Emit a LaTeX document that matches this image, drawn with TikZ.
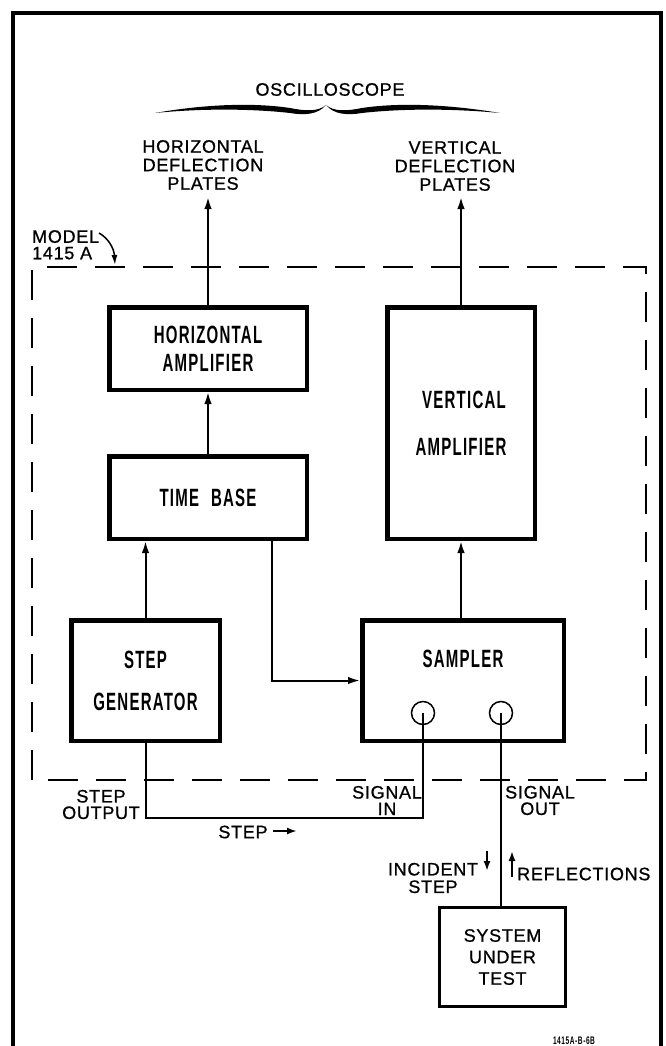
\documentclass[tikz,border=0pt]{standalone}
\usepackage{fontspec}
\setmainfont{Liberation Sans}
\newfontfamily\labfont[LetterSpace=4,FakeBold=0.8]{Liberation Sans}
\newfontfamily\boxfont[FakeStretch=0.6,LetterSpace=5]{Liberation Sans Bold}
\usetikzlibrary{arrows.meta}
\begin{document}
\begin{tikzpicture}[x=1pt,y=-1pt,
  lab/.style={font=\labfont\fontsize{18}{18.5}\selectfont, align=center, inner sep=0pt},
  lab16/.style={font=\labfont\fontsize{18}{16.5}\selectfont, align=center, inner sep=0pt},
  blk/.style={draw, line width=4.5pt, inner sep=0pt, font=\boxfont\fontsize{25}{28}\selectfont, align=center},
  conn/.style={line width=2pt},
  arr/.style={conn, -{Latex[length=12pt,width=7.5pt]}},
  smallarr/.style={line width=1.8pt, -{Latex[length=10pt,width=7pt]}},
]
\useasboundingbox (0,0) rectangle (666,1046);
% outer frame
\draw[line width=4pt] (13,1050) -- (13,13) -- (661,13) -- (661,1050);

% oscilloscope label and brace
\node[lab] (osc) at (330,89.5) {OSCILLOSCOPE};
\fill (155,113) .. controls (200,105) and (250,102) .. (290,108)
      .. controls (305,111) and (318,112) .. (326,105)
      .. controls (318,114.5) and (305,115.5) .. (290,113)
      .. controls (250,108.5) and (200,108.5) .. (155,113) -- cycle;
\fill (326,105) .. controls (334,112) and (347,111) .. (362,108)
      .. controls (402,102) and (452,105) .. (500,113)
      .. controls (452,108.5) and (402,108.5) .. (362,113)
      .. controls (347,115.5) and (334,114.5) .. (326,105) -- cycle;

\node[lab] (hdp) at (203,165) {HORIZONTAL\\DEFLECTION\\PLATES};
\node[lab] (vdp) at (455,166) {VERTICAL\\DEFLECTION\\PLATES};
\coordinate (hdptip) at (208,197);
\coordinate (vdptip) at (461,197);

% model label
\node[lab16, align=left, anchor=north west] (model) at (32,230) {MODEL\\1415 A};
\coordinate (mstart) at (99,233);
\coordinate (mtip) at (115,265);
\draw[line width=1.5pt, -{Latex[length=10pt,width=6pt]}] (mstart) .. controls (108,238) and (114,248) .. (mtip);

% dashed enclosure
\draw[conn, dash pattern=on 30pt off 18pt] (32,780) -- (32,267) -- (646,267) -- (646,780) -- cycle;

% blocks
\node[blk, minimum width=197.5pt, minimum height=82.5pt] (ha) at (208,348.5) {HORIZONTAL\\AMPLIFIER};
\node[blk, minimum width=197.5pt, minimum height=82.5pt] (tb) at (208,497.5) {TIME\hspace{12pt}BASE};
\node[blk, minimum width=147.5pt, minimum height=231.5pt] (va) at (461,423) {\hspace*{6pt}VERTICAL\\[19pt]AMPLIFIER};
\node[blk, minimum width=148.5pt, minimum height=120.5pt] (sg) at (145.5,680.5) {STEP\\[14pt]GENERATOR};
\node[blk, minimum width=201.5pt, minimum height=120.5pt] (sa) at (463,680.5) {};
\node[font=\boxfont\fontsize{25}{28}\selectfont, inner sep=0pt] (salab) at (463,659) {SAMPLER};
\node[draw, circle, line width=1.5pt, minimum size=23pt, inner sep=0pt] (cin) at (423,713) {};
\node[draw, circle, line width=1.5pt, minimum size=23pt, inner sep=0pt] (cout) at (501,713) {};
\node[draw, line width=3pt, inner sep=0pt, minimum width=126pt, minimum height=99pt,
      font=\labfont\fontsize{18}{21.5}\selectfont, align=center] (sut) at (502.5,957) {SYSTEM\\UNDER\\TEST};

% connectors
\draw[arr] (ha.north) -- (hdptip);
\draw[arr] (va.north) -- (vdptip);
\draw[arr] (tb.north) -- (ha.south);
\draw[arr] (sg.north) -- (sg.north |- tb.south);
\coordinate (tbout) at (272,540);
\draw[arr] (tbout) |- (sa.west);
\draw[arr] (va.south |- sa.north) -- (va.south);
\coordinate (stepcorner) at (145.5,818);
\draw[conn] (sg.south) -- (stepcorner) -| (cin.center);
\draw[conn] (cout.center) -- (cout.center |- sut.north);

% lower labels
\node[lab16] (stepout) at (101,804.5) {STEP\\OUTPUT};
\node[lab16] (sigin) at (387,800.5) {SIGNAL\\IN};
\node[lab16] (sigout) at (540,800.5) {SIGNAL\\OUT};
\node[lab] (steplab) at (243,832) {STEP};
\coordinate (sa1) at (273,831);
\coordinate (sa2) at (297,831);
\draw[smallarr, line width=2pt] (sa1) -- (sa2);

\node[font=\labfont\fontsize{18}{17.5}\selectfont, align=center, inner sep=0pt] (incid) at (433,878) {INCIDENT\\STEP};
\coordinate (inc1) at (487,851);
\coordinate (inc2) at (487,871);
\draw[smallarr] (inc1) -- (inc2);
\coordinate (ref1) at (512,877);
\coordinate (ref2) at (512,851);
\draw[smallarr] (ref1) -- (ref2);
\node[lab, anchor=west] (refl) at (517,874) {REFLECTIONS};

\node[font=\boxfont\fontsize{11}{12}\selectfont, inner sep=0pt] (code) at (574,1041) {1415A-B-6B};
\end{tikzpicture}
\end{document}
